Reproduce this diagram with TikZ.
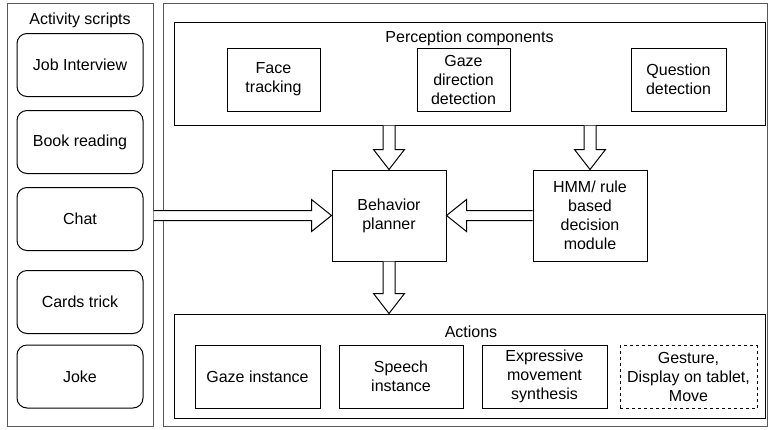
\documentclass[tikz,border=0pt]{standalone}
\usepackage{fontspec}
\setmainfont{Liberation Sans}
\usetikzlibrary{calc}
\begin{document}
\begin{tikzpicture}[x=1pt, y=-1pt,
    font=\fontsize{16}{19}\selectfont,
    frame/.style={rectangle, draw=black!65, line width=1pt},
    group/.style={rectangle, draw, line width=1pt},
    script/.style={rectangle, draw, rounded corners=10pt, line width=1pt, minimum width=126pt, minimum height=63pt, align=center},
    box/.style={rectangle, draw, line width=1pt, minimum height=63pt, align=center, inner sep=1pt},
    hollow/.style={draw, fill=white, line width=1pt, line join=miter}
]
    \useasboundingbox (0,0) rectangle (768,429);

    \node[frame, minimum width=146pt, minimum height=423pt] (scripts) at (80,214.5) {};
    \node[frame, minimum width=604pt, minimum height=423pt] (system) at (465,214.5) {};

    \node (scriptstitle) at (80,20) {Activity scripts};
    \node[script] (job) at (80,65) {Job Interview};
    \node[script] (book) at (80,142) {Book reading};
    \node[script] (chat) at (80,219) {Chat};
    \node[script] (cards) at (80,302) {Cards trick};
    \node[script] (joke) at (80,376.5) {Joke};

    \node[group, minimum width=591pt, minimum height=103pt] (perc) at (469.5,73.5) {};
    \node (perctitle) at (469.5,38) {Perception components};
    \node[box, minimum width=93pt] (face) at (273.5,79.5) {Face\\tracking};
    \node[box, minimum width=93pt] (gazedir) at (463.5,79.5) {Gaze\\direction\\detection};
    \node[box, minimum width=95pt] (question) at (678.5,79.5) {Question\\detection};

    \node[box, minimum width=114pt, minimum height=91pt] (planner) at (389,215.5) {Behavior\\planner};
    \node[box, minimum width=114pt, minimum height=91pt] (hmm) at (590,215.5) {HMM/ rule\\based\\decision\\module};

    \node[group, minimum width=591pt, minimum height=104pt] (actions) at (469.5,366) {};
    \node (actionstitle) at (471,332) {Actions};
    \node[box, minimum width=125pt] (gazeinst) at (257.5,376.5) {Gaze instance};
    \node[box, minimum width=124pt] (speech) at (401,376.5) {Speech\\instance};
    \node[box, minimum width=125pt] (expressive) at (544.5,376.5) {Expressive\\movement\\synthesis};
    \node[box, minimum width=137pt, dashed] (gesture) at (688.5,377) {Gesture,\\Display on tablet,\\Move};

    % block arrows
    \draw[hollow] ($(perc.south -| planner.north)+(-6,0)$) -- ($(planner.north)+(-6,-20)$) -- ($(planner.north)+(-15.5,-20)$) -- (planner.north) -- ($(planner.north)+(15.5,-20)$) -- ($(planner.north)+(6,-20)$) -- ($(perc.south -| planner.north)+(6,0)$);
    \draw[hollow] ($(perc.south -| hmm.north)+(-6,0)$) -- ($(hmm.north)+(-6,-20)$) -- ($(hmm.north)+(-15.5,-20)$) -- (hmm.north) -- ($(hmm.north)+(15.5,-20)$) -- ($(hmm.north)+(6,-20)$) -- ($(perc.south -| hmm.north)+(6,0)$);
    \draw[hollow] ($(hmm.west)+(0,-5)$) -- ($(planner.east)+(20,-5)$) -- ($(planner.east)+(20,-16)$) -- (planner.east) -- ($(planner.east)+(20,16)$) -- ($(planner.east)+(20,5)$) -- ($(hmm.west)+(0,5)$);
    \draw[hollow] ($(scripts.east |- planner.west)+(0,-5)$) -- ($(planner.west)+(-20,-5)$) -- ($(planner.west)+(-20,-16)$) -- (planner.west) -- ($(planner.west)+(-20,16)$) -- ($(planner.west)+(-20,5)$) -- ($(scripts.east |- planner.west)+(0,5)$);
    \draw[hollow] ($(planner.south)+(-6,0)$) -- ($(actions.north -| planner.south)+(-6,-20)$) -- ($(actions.north -| planner.south)+(-15.5,-20)$) -- (actions.north -| planner.south) -- ($(actions.north -| planner.south)+(15.5,-20)$) -- ($(actions.north -| planner.south)+(6,-20)$) -- ($(planner.south)+(6,0)$);
\end{tikzpicture}
\end{document}
